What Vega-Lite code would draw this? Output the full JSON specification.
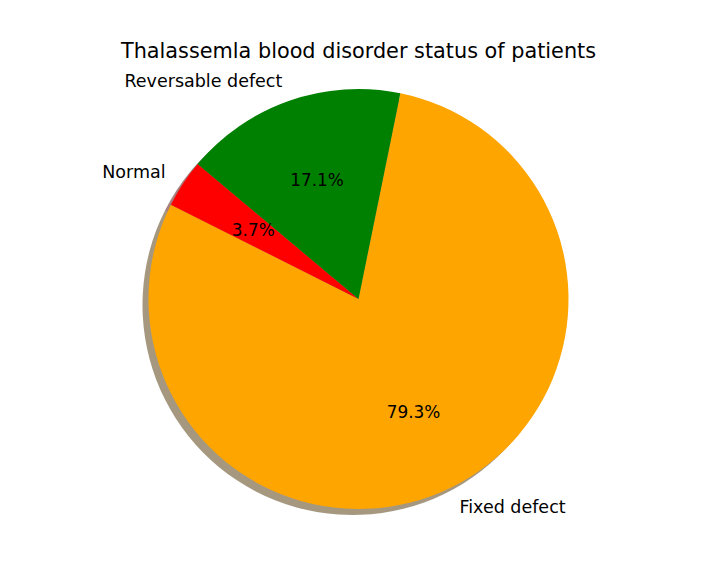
{
  "$schema": "https://vega.github.io/schema/vega-lite/v6.json",
  "width": 717,
  "height": 458,
  "autosize": {"type": "none"},
  "padding": {"left": 0, "top": 70, "right": 0, "bottom": 51},
  "title": {
    "text": "Thalassemla blood disorder status of patients",
    "fontSize": 20.8,
    "font": "DejaVu Sans",
    "fontWeight": "normal",
    "color": "black",
    "anchor": "middle",
    "frame": "group",
    "baseline": "alphabetic",
    "offset": -9
  },
  "config": {"view": {"stroke": null}, "font": "DejaVu Sans"},
  "data": {
    "values": [
      {"label": "Fixed defect", "share": 0.793},
      {"label": "Normal", "share": 0.037},
      {"label": "Reversable defect", "share": 0.171}
    ]
  },
  "encoding": {
    "theta": {"field": "share", "type": "quantitative", "stack": true, "scale": {"range": [0.2007, 6.4839]}},
    "order": {"field": "label", "sort": "ascending"}
  },
  "layer": [
    {
      "mark": {"type": "arc", "outerRadius": 210, "xOffset": -6, "yOffset": 6, "opacity": 0.5},
      "encoding": {
        "fill": {"field": "label", "type": "nominal", "legend": null,
          "scale": {"domain": ["Fixed defect", "Normal", "Reversable defect"], "range": ["#4D3100", "#4D0000", "#002600"]}}
      }
    },
    {
      "mark": {"type": "arc", "outerRadius": 210},
      "encoding": {
        "color": {"field": "label", "type": "nominal", "legend": null,
          "scale": {"domain": ["Fixed defect", "Normal", "Reversable defect"], "range": ["#FFA500", "#FF0000", "#008000"]}}
      }
    },
    {
      "mark": {"type": "text", "radius": 231, "align": "right", "baseline": "middle", "dy": 1, "fontSize": 17.5, "color": "black", "font": "DejaVu Sans"},
      "encoding": {
        "text": {"condition": {"test": "datum.label != 'Fixed defect'", "field": "label", "type": "nominal"}, "value": ""}
      }
    },
    {
      "mark": {"type": "text", "radius": 231, "align": "left", "baseline": "middle", "dy": 1, "fontSize": 17.5, "color": "black", "font": "DejaVu Sans"},
      "encoding": {
        "text": {"condition": {"test": "datum.label == 'Fixed defect'", "field": "label", "type": "nominal"}, "value": ""}
      }
    },
    {
      "mark": {"type": "text", "radius": 126, "align": "center", "baseline": "middle", "dy": 1, "fontSize": 16.9, "color": "black", "font": "DejaVu Sans"},
      "encoding": {
        "text": {"field": "share", "type": "quantitative", "format": ".1%"}
      }
    }
  ]
}
